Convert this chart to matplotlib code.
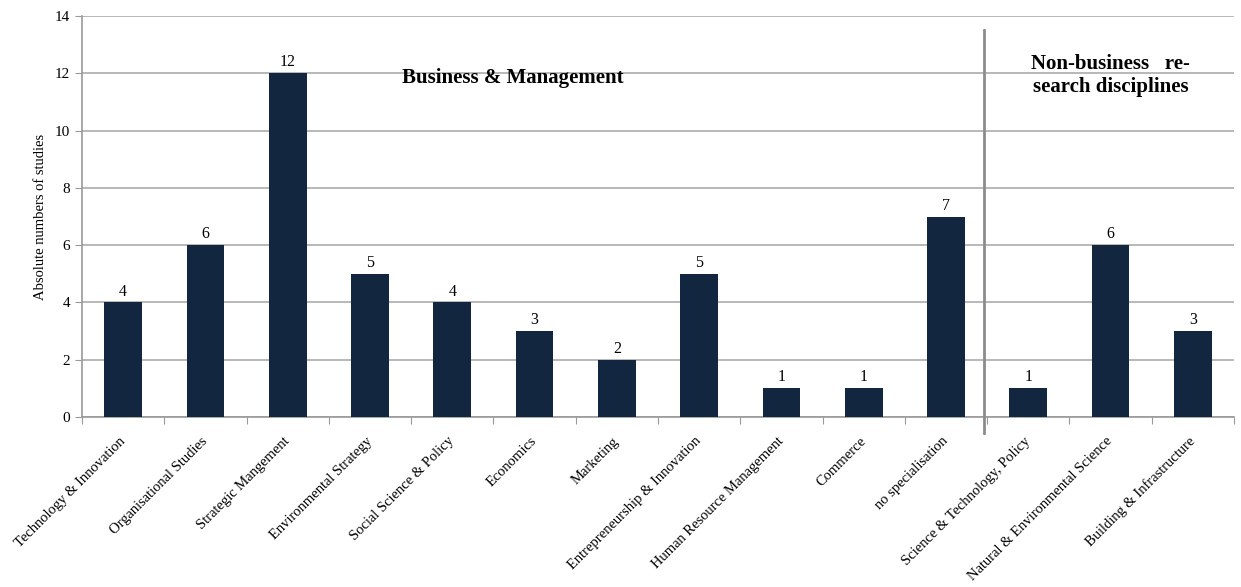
import matplotlib
matplotlib.use("Agg")
import matplotlib.pyplot as plt
import numpy as np

categories = [
    "Technology & Innovation", "Organisational Studies", "Strategic Mangement",
    "Environmental Strategy", "Social Science & Policy", "Economics", "Marketing",
    "Entrepreneurship & Innovation", "Human Resource Management", "Commerce",
    "no specialisation", "Science & Technology, Policy",
    "Natural & Environmental Science", "Building & Infrastructure",
]
studies = [4, 6, 12, 5, 4, 3, 2, 5, 1, 1, 7, 1, 6, 3]
n_business = 11

plt.rcParams["font.family"] = ["Liberation Serif", "DejaVu Serif"]

fig = plt.figure(figsize=(12.41, 5.87), dpi=100)
ax = fig.add_axes([82 / 1241, 1 - 417 / 587, (1234 - 82) / 1241, (417 - 16) / 587])

x = np.arange(len(categories))
bars = ax.bar(x, studies, width=0.46, color="#13263f", zorder=3)
for b, v in zip(bars, studies):
    ax.text(b.get_x() + b.get_width() / 2, v + 0.1, str(v),
            ha="center", va="bottom", fontsize=11.5)

ax.set_xlim(-0.5, len(categories) - 0.5)
ax.set_ylim(0, 14)
ax.set_yticks(range(0, 15, 2))
ax.yaxis.grid(True, color="#ababab", lw=1.2, zorder=0)

# ticks sit on the category boundaries, labels on the bar centres
ax.set_xticks(np.arange(len(categories) + 1) - 0.5)
ax.set_xticklabels([])
ax.set_xticks(x, minor=True)
ax.set_xticklabels(categories, minor=True, rotation=45, ha="right", va="center",
                   rotation_mode="anchor", fontsize=10.5)
ax.tick_params(axis="x", which="minor", length=0, pad=16)
ax.tick_params(axis="x", which="major", length=5, color="#999999")
ax.tick_params(axis="y", length=5, color="#999999", labelsize=11)

for s in ("top", "right"):
    ax.spines[s].set_visible(False)
for s in ("left", "bottom"):
    ax.spines[s].set_color("#999999")
    ax.spines[s].set_linewidth(1.2)

ax.set_ylabel("Absolute numbers of studies", fontsize=10.5)
ax.yaxis.set_label_coords(-0.030, 0.5)

# divider between business and non-business disciplines
sep = n_business - 0.5 - 0.04
ax.plot([sep, sep], [13.5, -0.55], color="#8c8c8c", lw=2, clip_on=False, zorder=4)

ax.text(4.74, 11.85, "Business & Management", ha="center", va="center",
        fontsize=15, fontweight="bold")
ax.text(12.0, 11.93, "Non-business   re-\nsearch disciplines", ha="center",
        va="center", fontsize=15, fontweight="bold", linespacing=1.2)

fig.savefig("out.png", dpi=100)
